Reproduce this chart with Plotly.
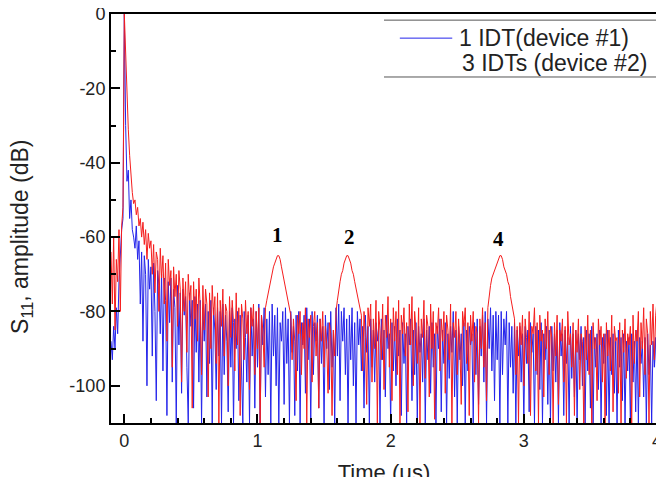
import plotly.graph_objects as go

# S11 amplitude (dB), 1 IDT (device #1), sampled every 0.01 us from -0.1 us
s11_dev1 = [
    -88, -93, -84, -90, -79, -86, -72, -64, -58, -55,
    0,
    -30, -45, -42, -55, -50, -58, -60, -63, -57,
    -66, -61, -78, -64, -88, -65, -70, -100, -66, -74,
    -68, -92, -67, -80, -104, -69, -73, -86, -70, -96,
    -71, -77, -108, -72, -83, -71, -99, -74, -79, -110,
    -73, -89, -75, -102, -74, -81, -76, -95, -110, -75,
    -84, -77, -106, -76, -91, -78, -99, -77, -110, -79,
    -88, -78, -103, -80, -94, -77, -110, -79, -85, -101,
    -79, -92, -80, -110, -78, -97, -81, -88, -107, -80,
    -95, -79, -110, -82, -90, -80, -104, -81, -93, -110,
    -80, -87, -99, -81, -110, -79, -92, -82, -106, -80,
    -95, -78, -110, -81, -89, -79, -103, -82, -97, -80,
    -110, -78, -92, -81, -100, -79, -110, -83, -88, -80,
    -105, -79, -94, -82, -110, -80, -91, -84, -108, -81,
    -96, -80, -110, -83, -89, -81, -102, -79, -93, -82,
    -110, -80, -97, -83, -88, -81, -106, -82, -94, -84,
    -110, -81, -90, -83, -101, -80, -95, -85, -110, -79,
    -92, -78, -104, -80, -88, -79, -97, -82, -110, -81,
    -93, -79, -100, -83, -110, -80, -89, -82, -96, -84,
    -106, -81, -91, -84, -110, -82, -95, -85, -99, -83,
    -88, -84, -110, -82, -93, -85, -103, -81, -90, -86,
    -110, -83, -96, -84, -100, -82, -92, -85, -108, -83,
    -94, -86, -110, -84, -89, -82, -104, -85, -97, -83,
    -110, -84, -91, -86, -99, -82, -110, -85, -93, -84,
    -102, -83, -95, -86, -110, -84, -90, -82, -107, -85,
    -94, -83, -110, -86, -98, -84, -91, -80, -103, -85,
    -110, -84, -93, -86, -100, -83, -110, -85, -96, -84,
    -89, -86, -110, -83, -97, -82, -105, -84, -92, -81,
    -99, -80, -110, -82, -90, -79, -96, -81, -104, -80,
    -93, -81, -110, -80, -97, -82, -89, -80, -110, -83,
    -95, -84, -102, -83, -110, -85, -92, -84, -99, -86,
    -110, -84, -94, -85, -107, -83, -91, -86, -110, -84,
    -97, -85, -101, -83, -110, -86, -93, -84, -105, -85,
    -110, -84, -96, -86, -99, -85, -110, -83, -92, -86,
    -108, -85, -94, -87, -110, -84, -98, -86, -103, -85,
    -110, -86, -93, -84, -100, -87, -110, -85, -96, -86,
    -106, -84, -110, -87, -95, -86, -101, -85, -110, -87,
    -94, -86, -108, -85, -110, -87, -97, -86, -102, -88,
    -110, -85, -95, -87, -104, -86, -110, -88, -96, -87,
    -110, -86, -99, -88, -107, -85, -110, -87, -94, -88,
    -103, -87, -110, -86, -97, -89, -110, -88, -95, -87, -100,
]

# S11 amplitude (dB), 3 IDTs (device #2), same sampling
s11_dev2 = [
    -64, -78, -60, -85, -66, -72, -58, -80, -57, -52,
    0,
    -12, -22, -31, -38, -44, -48, -51, -50, -54,
    -52, -57, -55, -60, -56, -62, -58, -66, -59, -63,
    -61, -70, -62, -75, -64, -66, -80, -63, -71, -65,
    -78, -67, -88, -66, -73, -69, -95, -68, -76, -70,
    -84, -69, -74, -99, -71, -80, -72, -91, -70, -77,
    -73, -106, -72, -82, -74, -88, -71, -79, -97, -73,
    -85, -74, -78, -103, -75, -90, -73, -81, -76, -94,
    -75, -110, -77, -84, -74, -92, -78, -80, -100, -76,
    -87, -77, -83, -96, -75, -89, -79, -108, -78, -82,
    -93, -77, -86, -80, -101, -79, -84, -78, -97, -80,
    -90, -79, -110, -81, -85, -95,
    -79, -77, -75, -73, -72, -70, -68, -67, -66, -65,
    -65, -66, -68, -70, -72, -73, -75, -77, -79, -81,
    -93, -82, -88, -104, -81, -86, -80, -97, -83, -90, -79, -110, -82, -87,
    -81, -99, -84, -80, -92, -83, -106, -82, -88, -80,
    -95, -84, -89, -102, -83, -86, -108, -85, -92,
    -80, -77, -74, -72, -70, -69, -67, -66, -65, -65,
    -66, -67, -69, -70, -72, -74, -75, -77, -79, -81,
    -96, -80, -87, -105, -79, -84, -78, -99, -82, -90, -77,
    -110, -80, -85, -93, -78, -101, -81, -87, -76, -95,
    -82, -104, -79, -88, -80, -97, -77, -110, -81, -86,
    -79, -92, -83, -107, -78, -89, -76, -100, -80, -85,
    -94, -79, -110, -82, -87, -77, -98, -81, -84, -103,
    -78, -90, -80, -109, -83, -86, -79, -96, -82, -88,
    -80, -102, -81, -85, -93, -78, -110, -83, -87, -80,
    -97, -82, -89, -105, -80, -84, -79, -94, -83, -108,
    -81, -88, -80, -99, -84, -86, -110, -82, -90, -79,
    -95, -83, -104,
    -79, -75, -73, -71, -70, -69, -68, -67, -66, -65,
    -65, -66, -68, -69, -70, -72, -73, -76, -78, -80, -82,
    -97, -84, -110, -83, -89, -81,
    -100, -82, -87, -94, -80, -108, -84, -86, -79, -96,
    -83, -110, -81, -88, -85, -103, -82, -90, -80, -97,
    -84, -87, -110, -83, -92, -81, -105, -85, -88, -82,
    -99, -84, -110, -80, -89, -86, -95, -83, -108, -85,
    -91, -82, -101, -86, -88, -110, -84, -93, -81, -97,
    -85, -110, -83, -90, -87, -104, -82, -89, -84, -99,
    -86, -110, -83, -92, -85, -96, -81, -107, -84, -88,
    -87, -102, -83, -110, -85, -91, -82, -98, -86, -89,
    -84, -110, -81, -94, -85, -88, -80, -103, -83, -90,
    -79, -97, -82, -86, -110, -80, -89, -78, -93, -81, -77,
]

time_dev1 = [round(-0.1 + 0.01 * i, 2) for i in range(len(s11_dev1))]
time_dev2 = [round(-0.1 + 0.01 * i, 2) for i in range(len(s11_dev2))]

peak_labels = ["1", "2", "4"]
peak_x = [1.15, 1.69, 2.81]
peak_y = [-59.5, -60, -60.5]

legend_names = ["1 IDT(device #1)", "3 IDTs (device #2)"]

y_ticks = [0, -20, -40, -60, -80, -100]
x_ticks = [0, 1, 2, 3, 4]

BLUE = "rgb(35,35,235)"
RED = "rgb(245,30,30)"

fig = go.Figure()
fig.add_trace(go.Scatter(x=time_dev1, y=s11_dev1, mode="lines", name=legend_names[0],
                         line=dict(color=BLUE, width=1)))
fig.add_trace(go.Scatter(x=time_dev2, y=s11_dev2, mode="lines", name=legend_names[1],
                         line=dict(color=RED, width=1)))

for lab, px, py in zip(peak_labels, peak_x, peak_y):
    fig.add_annotation(x=px, y=py, text="<b>%s</b>" % lab, showarrow=False,
                       font=dict(family="Liberation Serif", size=21, color="black"))

# hand-drawn legend like the original: rules top and bottom, blue sample, no red sample
for yy in [0.985, 0.846]:
    fig.add_shape(type="line", xref="paper", yref="paper", x0=0.5, x1=1, y0=yy, y1=yy,
                  line=dict(color="#555555", width=1))
fig.add_shape(type="line", xref="paper", yref="paper", x0=0.529, x1=0.625, y0=0.941, y1=0.941,
              line=dict(color=BLUE, width=1))
fig.add_annotation(xref="paper", yref="paper", x=0.634, y=0.941, text=legend_names[0],
                   xanchor="left", yanchor="middle", showarrow=False,
                   font=dict(family="Liberation Sans", size=23, color="#222222"))
fig.add_annotation(xref="paper", yref="paper", x=0.640, y=0.880, text=legend_names[1],
                   xanchor="left", yanchor="middle", showarrow=False,
                   font=dict(family="Liberation Sans", size=23, color="#222222"))

# y title placed by hand (sits a bit below the axis centre in the original)
fig.add_annotation(xref="paper", yref="paper", x=-0.163, y=0.455, textangle=-90,
                   text="S<sub>11</sub>, amplitude (dB)", showarrow=False,
                   xanchor="center", yanchor="middle",
                   font=dict(family="Liberation Sans", size=23, color="#222222"))

axis_common = dict(showline=True, linecolor="black", linewidth=2, mirror=True,
                   ticks="inside", tickcolor="black", tickwidth=2, ticklen=9,
                   showgrid=False, zeroline=False, automargin=False,
                   ticklabeloverflow="allow",
                   tickfont=dict(family="Liberation Sans", size=18, color="#222222"))

fig.update_layout(
    template="none",
    width=664, height=477,
    margin=dict(l=103, r=15, t=6, b=62),
    paper_bgcolor="white", plot_bgcolor="white",
    font=dict(family="Liberation Sans"),
    showlegend=False,
    xaxis=dict(range=[-0.1, 4], tickvals=x_ticks, ticktext=[str(v) for v in x_ticks],
               minor=dict(dtick=0.2, tick0=0, ticks="inside", ticklen=5, tickwidth=2, tickcolor="black"),
               title=dict(text="Time (μs)", standoff=22,
                          font=dict(family="Liberation Sans", size=22, color="#222222")),
               **axis_common),
    yaxis=dict(range=[-110, 0], tickvals=y_ticks, ticktext=[str(v) for v in y_ticks],
               minor=dict(dtick=10, tick0=0, ticks="inside", ticklen=5, tickwidth=2, tickcolor="black"),
               **axis_common),
)

fig.write_html("out.html")
